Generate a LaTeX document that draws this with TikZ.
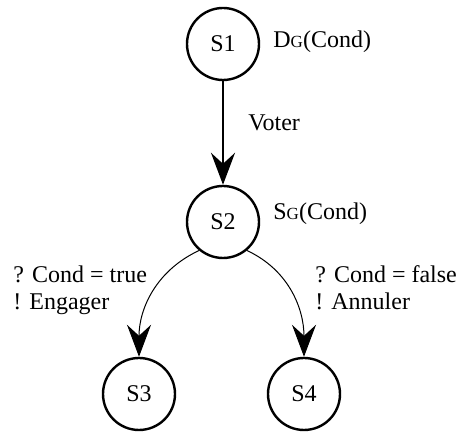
\documentclass[tikz,border=0pt]{standalone}
\usepackage{fontspec}
\setmainfont{Liberation Serif}
\usetikzlibrary{arrows.meta}

\newcommand{\smallg}{{\fontsize{8.5}{9}\selectfont G}}

\begin{document}
\begin{tikzpicture}[x=0.5pt,y=-0.5pt,>={Stealth[length=16pt,width=12pt,inset=5.5pt]},
    state node/.style={circle,draw,line width=1.2pt,minimum size=36pt,inner sep=0pt,font=\fontsize{12}{14}\selectfont},
    label node/.style={inner sep=0pt,anchor=base west,align=left,font=\fontsize{12}{13.5}\selectfont}]

            \useasboundingbox (0,0) rectangle (456,432);

            \node[state node]  (s1) at (223,44) {S1};
            \node[state node]  (s2) at (223,222) {S2};
            \node[state node]  (s3) at (139,394) {S3};
            \node[state node]  (s4) at (304,394) {S4};

            \node[label node]  (dg) at (273,48) {D\smallg(Cond)};
            \node[label node]  (sg) at (273,220) {S\smallg(Cond)};
            \node[label node]  (voter) at (248,131) {Voter};
            \node[label node]  (true) at (13,310) {? Cond = true\\! Engager};
            \node[label node]  (false) at (315,310) {? Cond = false\\! Annuler};

            % transitions
            \draw[->,line width=1pt] (s1) -- (s2);
            \draw[->,line width=0.5pt] (s2.230) to[out=205,in=90] (s3);
            \draw[->,line width=0.5pt] (s2.310) to[out=-25,in=90] (s4);

        \end{tikzpicture}
\end{document}
